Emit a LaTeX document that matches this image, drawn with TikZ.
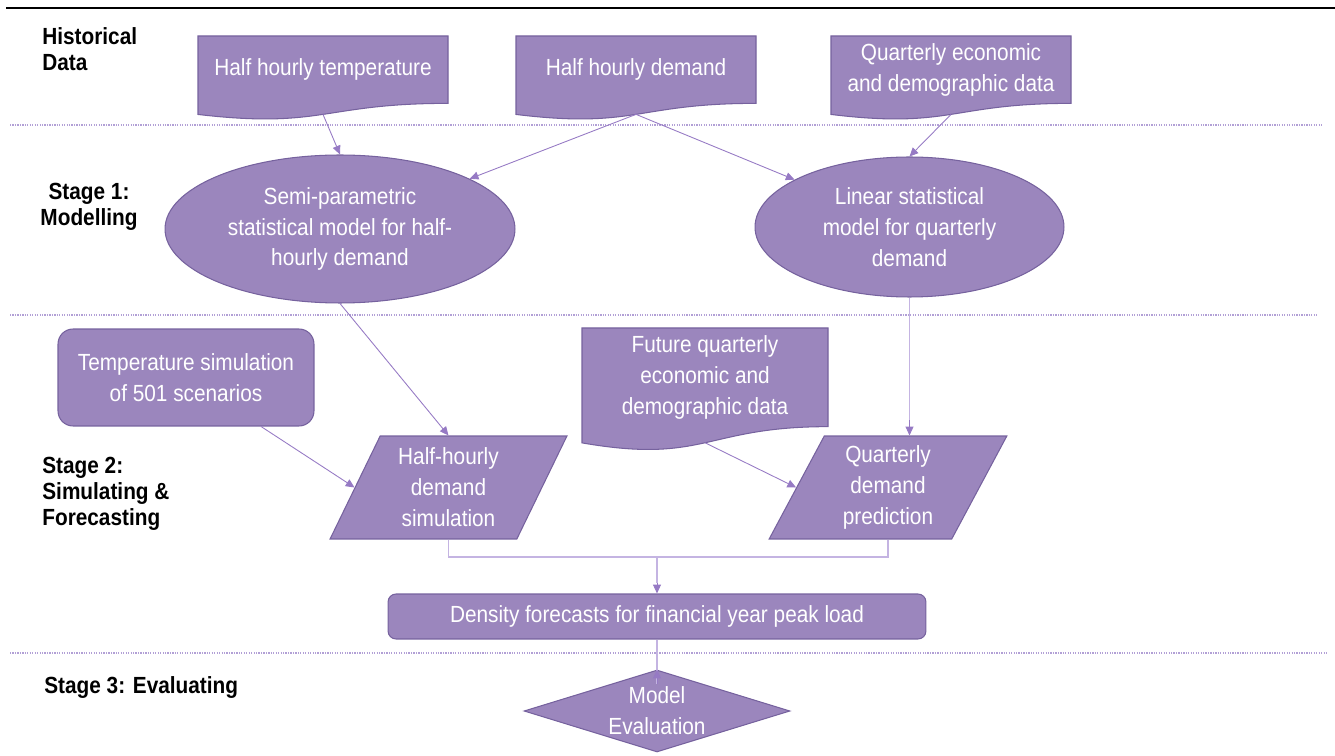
\documentclass[tikz,border=0pt]{standalone}
\usepackage{fontspec}
\setmainfont{Liberation Sans}[FakeStretch=0.89]
\usetikzlibrary{shapes.geometric,arrows.meta}

\definecolor{boxfill}{RGB}{155,134,189}
\definecolor{boxline}{RGB}{118,98,158}
\definecolor{arrowpurple}{RGB}{150,122,196}
\definecolor{linklav}{RGB}{196,180,226}
\definecolor{sepline}{RGB}{178,160,214}

% document shape: name, left, top, width, height, text
\newcommand{\docnode}[6]{%
  \filldraw[docshape] (#2,#3) -- ({#2+#4},#3) -- ({#2+#4},{#3+0.802*#5})
    .. controls ({#2+0.5*#4},{#3+0.802*#5}) and ({#2+0.5*#4},{#3+1.108*#5}) .. (#2,{#3+0.934*#5}) -- cycle;
  \node[boxtext] (#1) at ({#2+0.5*#4},{#3+0.401*#5}) {#6};
  \coordinate (#1-s) at ({#2+0.5*#4},{#3+0.933*#5});
}

\begin{document}
\begin{tikzpicture}[
        x=0.02cm, y=-0.02cm,
        every node/.style={font=\fontsize{13.3}{17.6}\selectfont},
        boxtext/.style={text=white, align=center, inner sep=0pt},
        docshape/.style={fill=boxfill, draw=boxline, line width=0.6pt},
        procbox/.style={rectangle, fill=boxfill, draw=boxline, line width=0.6pt, text=white, align=center, inner sep=0pt},
        ellbox/.style={ellipse, fill=boxfill, draw=boxline, line width=0.6pt, text=white, align=center, inner sep=0pt},
        parabox/.style={trapezium, trapezium left angle=65, trapezium right angle=115, trapezium stretches=true,
            minimum width=4.78cm, minimum height=2.06cm, fill=boxfill, draw=boxline, line width=0.6pt,
            text=white, align=center, inner sep=0pt},
        decbox/.style={diamond, aspect=3.2, minimum width=5.32cm, minimum height=1.64cm, fill=boxfill,
            draw=boxline, line width=0.6pt, text=white, align=center, inner sep=0pt},
        stagelabel/.style={font=\fontsize{13.3}{14.8}\selectfont\bfseries, align=left, inner sep=0pt},
        arr/.style={arrowpurple, line width=0.5pt, -{Triangle[length=5pt,width=4.5pt]}},
        link/.style={linklav, line width=1.1pt},
        divider/.style={sepline, line width=0.7pt, dash pattern=on 0.7pt off 0.7pt}
    ]
        \useasboundingbox (0,0) rectangle (1335,756);

        % Rule and stage dividers
        \draw[line width=1.4pt] (6,8) -- (1335,8);
        \draw[divider] (10,125) -- (1322,125);
        \draw[divider] (10,315) -- (1318,315);
        \draw[divider] (10,653) -- (1326,653);

        % Stage labels
        \node[stagelabel, anchor=west] (hist) at (42,49) {Historical\\Data};
        \node[stagelabel, align=center] (stage1) at (89,207) {Stage 1:\\Modelling};
        \node[stagelabel, anchor=west] (stage2) at (42,494) {Stage 2:\\Simulating \&\\Forecasting};
        \node[stagelabel, anchor=west] (stage3) at (44,688) {Stage 3: Evaluating};

        % Historical data
        \docnode{temp}{198}{36}{250}{84}{Half hourly temperature}
        \docnode{demand}{516}{36}{240}{84}{Half hourly demand}
        \docnode{quart}{831}{36}{240}{84}{Quarterly economic\\and demographic data}

        % Stage 1
        \node[ellbox, minimum width=7cm, minimum height=2.96cm] (semi) at (340,229)
            {Semi-parametric\\statistical model for half-\\hourly demand};
        \node[ellbox, minimum width=6.18cm, minimum height=2.8cm] (linear) at (909.5,227)
            {Linear statistical\\model for quarterly\\demand};

        % Stage 2
        \node[procbox, rounded corners=0.3cm, minimum width=5.12cm, minimum height=1.94cm] (tempsim) at (186,377.5)
            {Temperature simulation\\of 501 scenarios};
        \docnode{future}{582}{328}{246}{123}{Future quarterly\\economic and\\demographic data}
        \node[parabox] (half) at (448.5,487.5) {Half-hourly\\demand\\simulation};
        \node[parabox] (quartp) at (888,487.5) {Quarterly\\demand\\prediction};

        % Stage 3
        \node[procbox, rounded corners=0.16cm, minimum width=10.76cm, minimum height=0.9cm] (density) at (657,616.5)
            {Density forecasts for financial year peak load};
        \node[decbox] (model) at (657,711) {Model\\Evaluation};
        \coordinate (join) at (657,557);

        % Connectors
        \draw[arr] (temp-s) -- (semi.north);
        \draw[arr] (demand-s) -- (semi);
        \draw[arr] (demand-s) -- (linear);
        \draw[arr] (quart-s) -- (linear.north);
        \draw[arr] (semi.south) -- (half.north -| half.center);
        \draw[arr] (tempsim) -- (half.west);
        \draw[arr] (future-s) -- (quartp.west);
        \draw[link] (linear.south) -- (linear.south |- quartp.north);
        \draw[arr] ([yshift=0.3cm]linear.south |- quartp.north) -- (linear.south |- quartp.north);
        \draw[link] (half.center |- half.south) |- (join) -| (quartp.center |- quartp.south);
        \draw[link] (join) -- ([yshift=0.2cm]density.north);
        \draw[arr] ([yshift=0.2cm]density.north) -- (density.north);
        \draw[link] (density.south) -- ([yshift=-0.3cm]model.north);
        \draw[arr] ([yshift=-0.3cm]model.north) -- (model.north);
    \end{tikzpicture}
\end{document}
